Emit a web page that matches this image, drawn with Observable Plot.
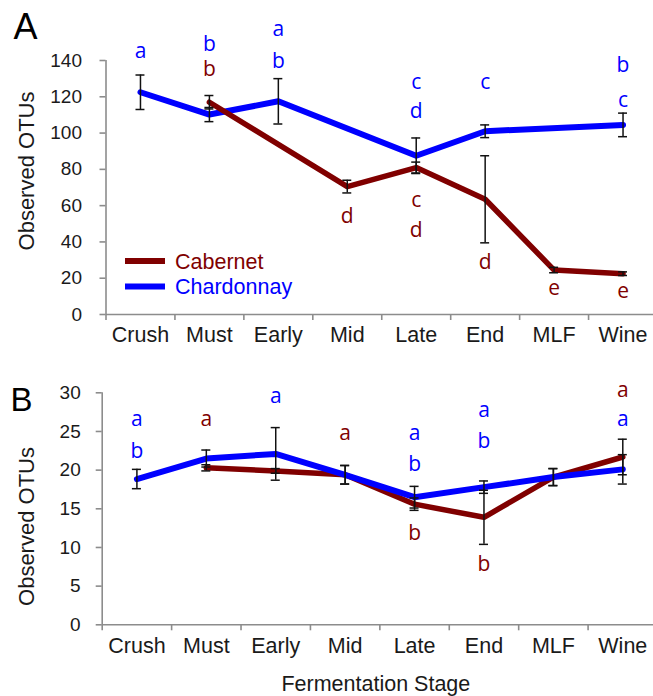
<!DOCTYPE html>
<html><head><meta charset="utf-8">
<script src="https://cdn.jsdelivr.net/npm/d3@7"></script>
<script src="https://cdn.jsdelivr.net/npm/@observablehq/plot@0.6"></script>
<style>
html,body{margin:0;padding:0;background:#fff;}
#wrap{position:relative;width:653px;height:696px;overflow:hidden;}
#wrap svg{display:block;}
</style></head><body><div id="wrap"></div>
<script>
const stages = ["Crush","Must","Early","Mid","Late","End","MLF","Wine"];
const series = ["Cabernet","Chardonnay"];
const colors = ["#800000","#0000ff"];

// Panel A (Observed OTUs)
const cabA    = [null, 117, null, 70.5, 81, 63.5, 24.5, 22.5];
const cabAErr = [null, 3.7, null, 3.5, 3, 24, 1.5, 1];
const chaA    = [122.5, 110.2, 117.5, null, 87.5, 101, null, 104.5];
const chaAErr = [9.5, 3.9, 12.5, null, 9.8, 3.5, null, 6.5];
const yTicksA = [0,20,40,60,80,100,120,140];
const lettersA = [
  ["Crush","Chardonnay","a",145],
  ["Must","Chardonnay","b",149.2],
  ["Must","Cabernet","b",134.9],
  ["Early","Chardonnay","a",157],
  ["Early","Chardonnay","b",139.6],
  ["Mid","Cabernet","d",54],
  ["Late","Chardonnay","c",128],
  ["Late","Chardonnay","d",112],
  ["Late","Cabernet","c",62.8],
  ["Late","Cabernet","d",46.3],
  ["End","Chardonnay","c",128],
  ["End","Cabernet","d",28.7],
  ["MLF","Cabernet","e",14.3],
  ["Wine","Chardonnay","b",137.3],
  ["Wine","Chardonnay","c",118.1],
  ["Wine","Cabernet","e",13]
];

// Panel B
const cabB    = [null, 20.3, 19.9, 19.4, 15.6, 13.9, 19.1, 21.7];
const cabBErr = [null, 0.4, 0.3, 1.2, 0.8, 3.5, 1.1, 2.3];
const chaB    = [18.85, 21.5, 22.1, 19.4, 16.5, 17.8, 19.1, 20.1];
const chaBErr = [1.25, 1.1, 3.4, 1.2, 1.4, 0.8, 1.1, 1.9];
const yTicksB = [0,5,10,15,20,25,30];
const lettersB = [
  ["Crush","Chardonnay","a",26.6],
  ["Crush","Chardonnay","b",22.5],
  ["Must","Cabernet","a",26.6],
  ["Early","Chardonnay","a",29.6],
  ["Mid","Cabernet","a",24.8],
  ["Late","Chardonnay","a",24.8],
  ["Late","Chardonnay","b",20.7],
  ["Late","Cabernet","b",11.8],
  ["End","Chardonnay","a",27.7],
  ["End","Chardonnay","b",23.7],
  ["End","Cabernet","b",7.8],
  ["Wine","Cabernet","a",30.3],
  ["Wine","Chardonnay","a",26.6]
];

const yTitle = "Observed OTUs";
const xTitle = "Fermentation Stage";

function rows(name, vals, errs) {
  return vals.map((v, i) => ({stage: stages[i], i, series: name, v, e: errs[i]}))
             .filter(d => d.v != null);
}

const SANS = "'Liberation Sans', Arial, sans-serif";
const AXIS = "#8c8c8c";
const CAP = 0.065;

function panel(o) {
  const cab = rows("Cabernet", o.cab, o.cabErr);
  const cha = rows("Chardonnay", o.cha, o.chaErr);
  const all = cab.concat(cha);
  const lineFor = (d, name) => Plot.line(d, {x: "i", y: "v", stroke: "series", strokeWidth: name === "Cabernet" ? 5.5 : 6, strokeLinejoin: "round"});
  const lines = o.cabOnTop ? [lineFor(cha, "Chardonnay"), lineFor(cab, "Cabernet")] : [lineFor(cab, "Cabernet"), lineFor(cha, "Chardonnay")];
  const yMax = o.yTicks[o.yTicks.length - 1];
  return Plot.plot({
    width: 653, height: o.height,
    marginTop: o.marginTop, marginBottom: o.marginBottom, marginLeft: o.marginLeft, marginRight: -4,
    style: {fontFamily: SANS, background: "transparent", color: "#222"},
    x: {domain: [-0.5, 7.5], axis: null},
    y: {domain: [0, yMax], axis: null},
    color: {domain: series, range: colors},
    marks: [
      Plot.ruleY([0], {stroke: AXIS, strokeWidth: 1.6}),
      Plot.ruleX([-0.5], {y1: 0, y2: yMax, stroke: AXIS, strokeWidth: 1.6}),
      Plot.axisX(d3.range(-0.5, 8, 1), {tickSize: 6, stroke: AXIS, strokeWidth: 1.6, tickFormat: () => "", label: null}),
      Plot.axisX(d3.range(8), {tickSize: 0, tickPadding: o.xPad, tickFormat: i => stages[i], fontSize: 21.5, fill: "#1a1a1a", label: null}),
      Plot.axisY(o.yTicks, {tickSize: 6, tickPadding: o.yPad, stroke: AXIS, strokeWidth: 1.6, fontSize: 19, fill: "#1a1a1a", label: null}),
      ...lines,
      Plot.ruleX(all, {x: "i", y1: d => d.v - d.e, y2: d => d.v + d.e, stroke: "#111", strokeWidth: 1.5}),
      Plot.ruleY(all, {y: d => d.v + d.e, x1: d => d.i - CAP, x2: d => d.i + CAP, stroke: "#111", strokeWidth: 1.5}),
      Plot.ruleY(all, {y: d => d.v - d.e, x1: d => d.i - CAP, x2: d => d.i + CAP, stroke: "#111", strokeWidth: 1.5}),
      Plot.text(o.letters, {x: d => stages.indexOf(d[0]), y: d => d[3], text: d => d[2], fill: d => d[1], fontFamily: "'Open Sans', sans-serif", fontSize: 21}),
      Plot.text([yTitle], {frameAnchor: "left", textAnchor: "middle", lineAnchor: "middle", rotate: -90, dx: o.yTitleDx, dy: o.yTitleDy, fontSize: 22, fill: "#1a1a1a"}),
      Plot.text([o.letter], {frameAnchor: "top-left", textAnchor: "start", lineAnchor: "middle", dx: o.letterDx, dy: o.letterDy, fontSize: o.letterSize, fill: "#000"}),
      ...(o.xTitle ? [Plot.text([o.xTitle], {frameAnchor: "bottom", textAnchor: "middle", lineAnchor: "middle", dx: -4, dy: o.xTitleDy, fontSize: 21.5, fill: "#1a1a1a"})] : [])
    ]
  });
}

const wrap = document.getElementById("wrap");

const chartA = panel({
  cab: cabA, cabErr: cabAErr, cha: chaA, chaErr: chaAErr, yTicks: yTicksA, letters: lettersA,
  height: 350, marginTop: 60, marginBottom: 36, marginLeft: 105.5, xPad: 12, yPad: 18,
  cabOnTop: true, yTitleDx: -79.5, yTitleDy: -16.5, letter: "A", letterDx: -92.5, letterDy: -33.5, letterSize: 36
});
wrap.appendChild(chartA);

// legend inside panel A
const svgA = d3.select(chartA);
const leg = svgA.append("g");
series.forEach((s, k) => {
  const y = 261 + k * 25.5;
  leg.append("line").attr("x1", 125).attr("x2", 165).attr("y1", y).attr("y2", y)
     .attr("stroke", colors[k]).attr("stroke-width", 6);
  leg.append("text").attr("x", 175).attr("y", y + 7.6).attr("fill", colors[k])
     .attr("text-anchor", "start")
     .attr("font-family", SANS).attr("font-size", 21.5).text(s);
});

const chartB = panel({
  cab: cabB, cabErr: cabBErr, cha: chaB, chaErr: chaBErr, yTicks: yTicksB, letters: lettersB,
  height: 346, marginTop: 42.3, marginBottom: 71.7, marginLeft: 101.7, xPad: 13.4, yPad: 15.5,
  cabOnTop: false, yTitleDx: -75.7, yTitleDy: 17.7, letter: "B", letterDx: -91.7, letterDy: 7.5, letterSize: 33,
  xTitle: xTitle, xTitleDy: 58.9
});
wrap.appendChild(chartB);
</script></body></html>
